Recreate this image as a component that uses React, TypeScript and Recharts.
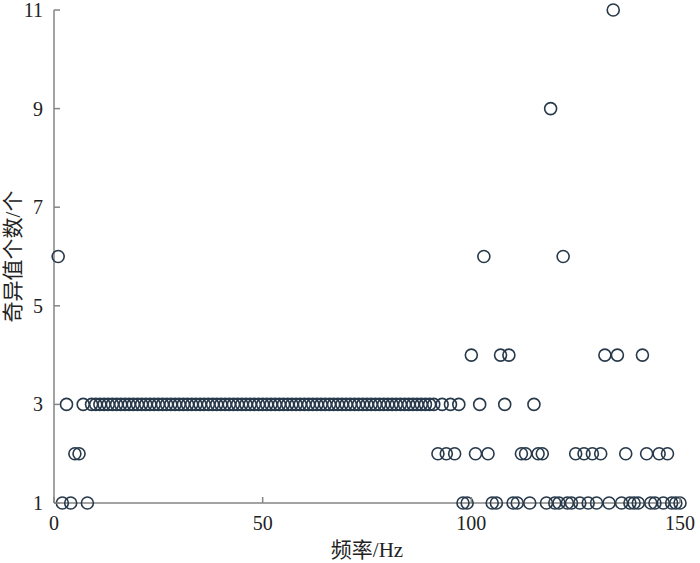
import { ScatterChart, Scatter, XAxis, YAxis } from 'recharts'

const AXIS_COLOR = '#858585'
const DOT_COLOR = '#27394a'
const FONT = "'Liberation Serif', 'Noto Sans CJK SC', serif"

const xTicks = [0, 50, 100, 150]
const yTicks = [1, 3, 5, 7, 9, 11]

// 每个频率 (1 Hz ~ 150 Hz) 的奇异值个数
const counts = [
  6, 1, 3, 1, 2, 2, 3, 1, 3, 3,
  3, 3, 3, 3, 3, 3, 3, 3, 3, 3,
  3, 3, 3, 3, 3, 3, 3, 3, 3, 3,
  3, 3, 3, 3, 3, 3, 3, 3, 3, 3,
  3, 3, 3, 3, 3, 3, 3, 3, 3, 3,
  3, 3, 3, 3, 3, 3, 3, 3, 3, 3,
  3, 3, 3, 3, 3, 3, 3, 3, 3, 3,
  3, 3, 3, 3, 3, 3, 3, 3, 3, 3,
  3, 3, 3, 3, 3, 3, 3, 3, 3, 3,
  3, 2, 3, 2, 3, 2, 3, 1, 1, 4,
  2, 3, 6, 2, 1, 1, 4, 3, 4, 1,
  1, 2, 2, 1, 3, 2, 2, 1, 9, 1,
  1, 6, 1, 1, 2, 1, 2, 1, 2, 1,
  2, 4, 1, 11, 4, 1, 2, 1, 1, 1,
  4, 2, 1, 1, 2, 1, 2, 1, 1, 1,
]

const data = counts.map((c, i) => ({ freq: i + 1, count: c }))

const YTick = ({ x, y, payload }: any) => (
  <g>
    <line x1={x + 11} x2={x + 17} y1={y} y2={y} stroke={AXIS_COLOR} strokeWidth={1.5} />
    <text x={x} y={y} dy="0.35em" textAnchor="end" fontSize={20} fill="#222" fontFamily={FONT}>
      {payload.value}
    </text>
  </g>
)

const XTick = ({ x, y, payload }: any) => (
  <g>
    <line x1={x} x2={x} y1={y - 10} y2={y - 16} stroke={AXIS_COLOR} strokeWidth={1.5} />
    <text x={x} y={y + 17} textAnchor="middle" fontSize={20} fill="#222" fontFamily={FONT}>
      {payload.value}
    </text>
  </g>
)

const Ring = ({ cx, cy }: any) => (
  <circle cx={cx} cy={cy} r={6} fill="none" stroke={DOT_COLOR} strokeWidth={1.6} />
)

export default function App() {
  return (
    <div style={{ position: 'absolute', left: 0, top: 0, width: 700, height: 563 }}>
      <ScatterChart width={700} height={563} margin={{ top: 10, right: 20, bottom: 0, left: 0 }}>
        <XAxis
          type="number"
          dataKey="freq"
          domain={[0, 150]}
          ticks={xTicks}
          height={60}
          tickSize={0}
          tickMargin={10}
          tick={<XTick />}
          stroke={AXIS_COLOR}
          strokeWidth={1.5}
          label={{ value: '频率/Hz', position: 'insideBottom', offset: 6, fontSize: 21, fill: '#222', fontFamily: FONT }}
        />
        <YAxis
          type="number"
          dataKey="count"
          domain={[1, 11]}
          ticks={yTicks}
          width={54}
          tickSize={0}
          tickMargin={11}
          tick={<YTick />}
          stroke={AXIS_COLOR}
          strokeWidth={1.5}
          label={{ value: '奇异值个数/个', angle: -90, position: 'insideLeft', offset: 13, fontSize: 21, fill: '#222', fontFamily: FONT, style: { textAnchor: 'middle' } }}
        />
        <Scatter data={data} shape={<Ring />} isAnimationActive={false} />
      </ScatterChart>
    </div>
  )
}
